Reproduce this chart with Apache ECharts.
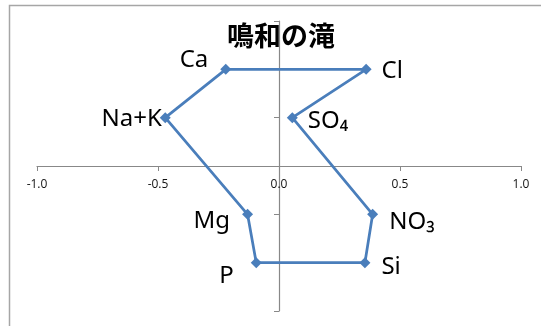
<!DOCTYPE html>
<html>
<head>
    <meta charset="utf-8">
    <title>鳴和の滝</title>
    <script src="https://cdn.jsdelivr.net/npm/echarts@6/dist/echarts.min.js"></script>
    <style>
        html, body { margin: 0; padding: 0; background: #fff; }
        #chart { width: 541px; height: 326px; }
    </style>
</head>
<body>
<div id="chart"></div>
<script>
    // ヘキサダイヤグラム（閉じた折れ線の順）
    var ions = ['Ca', 'Na+K', 'Mg', 'P', 'Si', 'NO₃', 'SO₄', 'Cl'];
    var xVals = [-0.22, -0.47, -0.13, -0.094, 0.355, 0.387, 0.055, 0.36];
    var yVals = [2, 1, -1, -2, -2, -1, 1, 2];
    var xTicks = [-1.0, -0.5, 0.0, 0.5, 1.0];

    // ラベルの置き方
    var labelPlace = {
        'Ca':   {position: 'left',  offset: [-7, -9]},
        'Na+K': {position: 'left',  offset: [7, 1]},
        'Mg':   {position: 'left',  offset: [-7, 7]},
        'P':    {position: 'left',  offset: [-12, 13]},
        'Si':   {position: 'right', offset: [6, 4]},
        'NO₃':  {position: 'right', offset: [6, 8]},
        'SO₄':  {position: 'right', offset: [5, 3]},
        'Cl':   {position: 'right', offset: [5, 2]}
    };

    var points = ions.map(function (name, i) {
        var p = labelPlace[name];
        return {
            name: name,
            value: [xVals[i], yVals[i]],
            label: {show: true, formatter: name, position: p.position, offset: p.offset}
        };
    });
    // 最初の点に戻して閉じる
    points.push({name: ions[0], value: [xVals[0], yVals[0]], symbol: 'none', label: {show: false}});

    var gridTop = 21, gridHeight = 290;

    var chart = echarts.init(document.getElementById('chart'));
    var option = {
        animation: false,
        title: {
            text: '鳴和の滝',
            left: 222,
            top: 17,
            textStyle: {
                fontFamily: 'Noto Sans CJK JP',
                fontSize: 27,
                fontWeight: 'bold',
                color: '#000'
            }
        },
        graphic: [{
            type: 'rect',
            shape: {x: 9.5, y: 5.5, width: 600, height: 400},
            style: {fill: 'none', stroke: '#a6a6a6', lineWidth: 1.5},
            silent: true
        }],
        grid: {left: 37, top: gridTop, width: 484, height: gridHeight, outerBoundsMode: 'none', containLabel: false},
        xAxis: {
            type: 'value',
            min: -1, max: 1, interval: 0.5,
            // 軸を y=0 の位置まで持ち上げる（目盛ラベルも一緒に）
            offset: -gridHeight / 2,
            axisLine: {onZero: false, lineStyle: {color: '#888', width: 1.2}},
            axisTick: {show: true, length: 5, lineStyle: {color: '#888'}},
            axisLabel: {
                margin: 13,
                fontFamily: 'Open Sans',
                fontSize: 12,
                color: '#111',
                formatter: function (v) { return v.toFixed(1); }
            },
            splitLine: {show: false}
        },
        yAxis: {
            type: 'value',
            min: -3, max: 3, interval: 1,
            axisLine: {show: true, onZero: true, lineStyle: {color: '#888', width: 1.2}},
            axisTick: {show: true, length: 5, lineStyle: {color: '#888'}},
            axisLabel: {show: false},
            splitLine: {show: false}
        },
        series: [{
            type: 'line',
            data: points,
            symbol: 'diamond',
            symbolSize: 11,
            lineStyle: {color: '#4a7ebb', width: 2.75},
            itemStyle: {color: '#4a7ebb'},
            label: {
                fontFamily: 'Noto Sans',
                fontSize: 24,
                color: '#000'
            },
            z: 3
        }]
    };
    chart.setOption(option);
</script>
</body>
</html>
